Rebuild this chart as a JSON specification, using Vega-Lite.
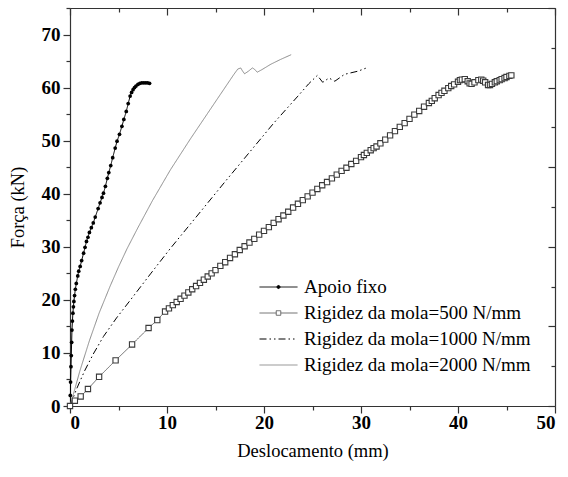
{
  "$schema": "https://vega.github.io/schema/vega-lite/v6.json",
  "width": 485,
  "height": 398,
  "autosize": "none",
  "padding": {"left": 70, "top": 8, "right": 13, "bottom": 71},
  "background": "white",
  "config": {
    "font": "Liberation Serif",
    "view": {"stroke": null},
    "axis": {
      "grid": false,
      "labelFont": "Liberation Serif",
      "labelFontWeight": "bold",
      "labelFontSize": 19,
      "labelColor": "black",
      "tickColor": "#333",
      "domainColor": "#333",
      "tickWidth": 1.2,
      "domainWidth": 1.2,
      "titleFont": "Liberation Serif",
      "titleFontWeight": "normal",
      "titleFontSize": 18.5,
      "titleColor": "black"
    }
  },
  "datasets": {
    "d": [
      {"s": "A", "x": 0, "y": 0},
      {"s": "A", "x": 0.03, "y": 2},
      {"s": "A", "x": 0.06, "y": 4.5},
      {"s": "A", "x": 0.1, "y": 7.4},
      {"s": "A", "x": 0.13, "y": 9.5},
      {"s": "A", "x": 0.17, "y": 12},
      {"s": "A", "x": 0.2, "y": 14.3},
      {"s": "A", "x": 0.25, "y": 16},
      {"s": "A", "x": 0.3, "y": 17.5},
      {"s": "A", "x": 0.35, "y": 18.7},
      {"s": "A", "x": 0.4, "y": 19.7},
      {"s": "A", "x": 0.47, "y": 20.8},
      {"s": "A", "x": 0.55, "y": 22},
      {"s": "A", "x": 0.65, "y": 23.1},
      {"s": "A", "x": 0.8, "y": 24.5},
      {"s": "A", "x": 0.9, "y": 25.4},
      {"s": "A", "x": 1.05, "y": 26.3},
      {"s": "A", "x": 1.2, "y": 27.4},
      {"s": "A", "x": 1.4, "y": 28.8},
      {"s": "A", "x": 1.55, "y": 29.9},
      {"s": "A", "x": 1.7, "y": 31},
      {"s": "A", "x": 1.85, "y": 31.8},
      {"s": "A", "x": 2.0, "y": 32.7},
      {"s": "A", "x": 2.2, "y": 33.6},
      {"s": "A", "x": 2.4, "y": 34.5},
      {"s": "A", "x": 2.6, "y": 35.6},
      {"s": "A", "x": 2.9, "y": 37.2},
      {"s": "A", "x": 3.1, "y": 38.3},
      {"s": "A", "x": 3.3, "y": 39.3},
      {"s": "A", "x": 3.45, "y": 40.1},
      {"s": "A", "x": 3.65, "y": 41.4},
      {"s": "A", "x": 3.85, "y": 42.9},
      {"s": "A", "x": 4.0, "y": 44},
      {"s": "A", "x": 4.2, "y": 45.3},
      {"s": "A", "x": 4.4, "y": 46.8},
      {"s": "A", "x": 4.66, "y": 48.6},
      {"s": "A", "x": 4.85, "y": 49.9},
      {"s": "A", "x": 5.1, "y": 51.2},
      {"s": "A", "x": 5.35, "y": 52.7},
      {"s": "A", "x": 5.55, "y": 54},
      {"s": "A", "x": 5.8, "y": 55.5},
      {"s": "A", "x": 6.0, "y": 57},
      {"s": "A", "x": 6.2, "y": 58.4},
      {"s": "A", "x": 6.35, "y": 59.1},
      {"s": "A", "x": 6.5, "y": 59.6},
      {"s": "A", "x": 6.65, "y": 60},
      {"s": "A", "x": 6.8, "y": 60.3},
      {"s": "A", "x": 7.0, "y": 60.6},
      {"s": "A", "x": 7.2, "y": 60.8},
      {"s": "A", "x": 7.4, "y": 60.9},
      {"s": "A", "x": 7.6, "y": 60.9},
      {"s": "A", "x": 7.8, "y": 60.9},
      {"s": "A", "x": 8.0, "y": 60.9},
      {"s": "A", "x": 8.2, "y": 60.8},

      {"s": "500", "x": 0, "y": 0},
      {"s": "500", "x": 0.5, "y": 1.0},
      {"s": "500", "x": 1.1, "y": 1.8},
      {"s": "500", "x": 1.85, "y": 3.2},
      {"s": "500", "x": 3.0, "y": 5.5},
      {"s": "500", "x": 4.7, "y": 8.6},
      {"s": "500", "x": 6.4, "y": 11.6},
      {"s": "500", "x": 8.1, "y": 14.7},
      {"s": "500", "x": 9.0, "y": 16.2},
      {"s": "500", "x": 9.8, "y": 17.8},
      {"s": "500", "x": 10.2, "y": 18.4},
      {"s": "500", "x": 10.6, "y": 19.0},
      {"s": "500", "x": 11.0, "y": 19.6},
      {"s": "500", "x": 11.4, "y": 20.2},
      {"s": "500", "x": 11.8, "y": 20.8},
      {"s": "500", "x": 12.2, "y": 21.4},
      {"s": "500", "x": 12.6, "y": 22.0},
      {"s": "500", "x": 13.0, "y": 22.6},
      {"s": "500", "x": 13.4, "y": 23.2},
      {"s": "500", "x": 13.8, "y": 23.8},
      {"s": "500", "x": 14.2, "y": 24.4},
      {"s": "500", "x": 14.6, "y": 25.0},
      {"s": "500", "x": 15.0, "y": 25.6},
      {"s": "500", "x": 15.5, "y": 26.4},
      {"s": "500", "x": 16.0, "y": 27.1},
      {"s": "500", "x": 16.5, "y": 27.9},
      {"s": "500", "x": 17.0, "y": 28.6},
      {"s": "500", "x": 17.5, "y": 29.4},
      {"s": "500", "x": 18.0, "y": 30.1},
      {"s": "500", "x": 18.5, "y": 30.8},
      {"s": "500", "x": 19.0, "y": 31.5},
      {"s": "500", "x": 19.5, "y": 32.3},
      {"s": "500", "x": 20.0, "y": 33.0},
      {"s": "500", "x": 20.5, "y": 33.7},
      {"s": "500", "x": 21.0, "y": 34.5},
      {"s": "500", "x": 21.5, "y": 35.2},
      {"s": "500", "x": 22.0, "y": 35.9},
      {"s": "500", "x": 22.5, "y": 36.6},
      {"s": "500", "x": 23.0, "y": 37.4},
      {"s": "500", "x": 23.5, "y": 38.1},
      {"s": "500", "x": 24.0, "y": 38.8},
      {"s": "500", "x": 24.5, "y": 39.5},
      {"s": "500", "x": 25.0, "y": 40.2},
      {"s": "500", "x": 25.5, "y": 40.9},
      {"s": "500", "x": 26.0, "y": 41.6},
      {"s": "500", "x": 26.5, "y": 42.2},
      {"s": "500", "x": 27.0, "y": 42.9},
      {"s": "500", "x": 27.5, "y": 43.6},
      {"s": "500", "x": 28.0, "y": 44.3},
      {"s": "500", "x": 28.5, "y": 44.9},
      {"s": "500", "x": 29.0, "y": 45.6},
      {"s": "500", "x": 29.5, "y": 46.2},
      {"s": "500", "x": 30.0, "y": 46.9},
      {"s": "500", "x": 30.3, "y": 47.3},
      {"s": "500", "x": 30.6, "y": 47.7},
      {"s": "500", "x": 31.0, "y": 48.2},
      {"s": "500", "x": 31.3, "y": 48.6},
      {"s": "500", "x": 31.6, "y": 48.9},
      {"s": "500", "x": 32.0, "y": 49.5},
      {"s": "500", "x": 32.5, "y": 50.2},
      {"s": "500", "x": 33.0, "y": 51.0},
      {"s": "500", "x": 33.5, "y": 51.8},
      {"s": "500", "x": 34.0, "y": 52.6},
      {"s": "500", "x": 34.5, "y": 53.3},
      {"s": "500", "x": 35.0, "y": 54.1},
      {"s": "500", "x": 35.5, "y": 54.9},
      {"s": "500", "x": 36.0, "y": 55.6},
      {"s": "500", "x": 36.5, "y": 56.4},
      {"s": "500", "x": 37.0, "y": 57.1},
      {"s": "500", "x": 37.3, "y": 57.5},
      {"s": "500", "x": 37.6, "y": 58.0},
      {"s": "500", "x": 38.0, "y": 58.6},
      {"s": "500", "x": 38.3, "y": 59.0},
      {"s": "500", "x": 38.6, "y": 59.4},
      {"s": "500", "x": 39.0, "y": 59.9},
      {"s": "500", "x": 39.3, "y": 60.3},
      {"s": "500", "x": 39.6, "y": 60.6},
      {"s": "500", "x": 40.0, "y": 61.1},
      {"s": "500", "x": 40.2, "y": 61.4},
      {"s": "500", "x": 40.4, "y": 61.5},
      {"s": "500", "x": 40.7, "y": 61.6},
      {"s": "500", "x": 41.0, "y": 61.2},
      {"s": "500", "x": 41.2, "y": 60.8},
      {"s": "500", "x": 41.4, "y": 60.7},
      {"s": "500", "x": 41.7, "y": 61.0},
      {"s": "500", "x": 42.1, "y": 61.4},
      {"s": "500", "x": 42.4, "y": 61.5},
      {"s": "500", "x": 42.6, "y": 61.3},
      {"s": "500", "x": 42.8, "y": 61.0},
      {"s": "500", "x": 43.1, "y": 60.5},
      {"s": "500", "x": 43.3, "y": 60.5},
      {"s": "500", "x": 43.5, "y": 60.7},
      {"s": "500", "x": 43.8, "y": 61.0},
      {"s": "500", "x": 44.0, "y": 61.2},
      {"s": "500", "x": 44.3, "y": 61.4},
      {"s": "500", "x": 44.5, "y": 61.6},
      {"s": "500", "x": 44.8, "y": 61.8},
      {"s": "500", "x": 45.0, "y": 62.0},
      {"s": "500", "x": 45.3, "y": 62.2},
      {"s": "500", "x": 45.5, "y": 62.3},

      {"s": "1000", "x": 0, "y": 0},
      {"s": "1000", "x": 0.7, "y": 3.3},
      {"s": "1000", "x": 1.5, "y": 6.6},
      {"s": "1000", "x": 2.4, "y": 9.8},
      {"s": "1000", "x": 3.45, "y": 13.1},
      {"s": "1000", "x": 4.8, "y": 16.6},
      {"s": "1000", "x": 6.2, "y": 19.9},
      {"s": "1000", "x": 8.3, "y": 24.9},
      {"s": "1000", "x": 10.35, "y": 29.7},
      {"s": "1000", "x": 13.0, "y": 35.6},
      {"s": "1000", "x": 16.0, "y": 42.3},
      {"s": "1000", "x": 19.0, "y": 48.9},
      {"s": "1000", "x": 21.0, "y": 53.3},
      {"s": "1000", "x": 23.5, "y": 58.4},
      {"s": "1000", "x": 24.6, "y": 60.7},
      {"s": "1000", "x": 25.5, "y": 62.3},
      {"s": "1000", "x": 26.05, "y": 61.0},
      {"s": "1000", "x": 26.7, "y": 61.8},
      {"s": "1000", "x": 27.3, "y": 61.2},
      {"s": "1000", "x": 28.3, "y": 62.5},
      {"s": "1000", "x": 29.7, "y": 63.1},
      {"s": "1000", "x": 30.7, "y": 63.8},

      {"s": "2000", "x": 0, "y": 0},
      {"s": "2000", "x": 0.5, "y": 3.2},
      {"s": "2000", "x": 1.0, "y": 6.5},
      {"s": "2000", "x": 2.0, "y": 12.3},
      {"s": "2000", "x": 3.0, "y": 17.5},
      {"s": "2000", "x": 4.14, "y": 22.6},
      {"s": "2000", "x": 5.0, "y": 26.2},
      {"s": "2000", "x": 5.87, "y": 29.6},
      {"s": "2000", "x": 7.0, "y": 33.6},
      {"s": "2000", "x": 8.5, "y": 38.7},
      {"s": "2000", "x": 10.35, "y": 44.5},
      {"s": "2000", "x": 12.4, "y": 50.3},
      {"s": "2000", "x": 14.5, "y": 56.0},
      {"s": "2000", "x": 16.9, "y": 62.5},
      {"s": "2000", "x": 17.3, "y": 63.5},
      {"s": "2000", "x": 17.6, "y": 63.7},
      {"s": "2000", "x": 17.8, "y": 63.1},
      {"s": "2000", "x": 18.0, "y": 62.6},
      {"s": "2000", "x": 18.4, "y": 63.1},
      {"s": "2000", "x": 18.8, "y": 63.7},
      {"s": "2000", "x": 19.0, "y": 63.5},
      {"s": "2000", "x": 19.3, "y": 62.9},
      {"s": "2000", "x": 19.8, "y": 63.4},
      {"s": "2000", "x": 20.7, "y": 64.4},
      {"s": "2000", "x": 21.7, "y": 65.3},
      {"s": "2000", "x": 22.8, "y": 66.2}
    ]
  },
  "layer": [
    {
      "data": {"name": "d"},
      "mark": {"type": "line", "clip": true},
      "encoding": {
        "x": {"field": "x", "type": "quantitative", "scale": {"domain": [0, 50], "nice": false, "zero": false},
          "axis": {"orient": "bottom", "values": [0, 10, 20, 30, 40, 50], "tickSize": 7, "labelPadding": 0, "title": "Deslocamento (mm)", "titlePadding": 9}},
        "y": {"field": "y", "type": "quantitative", "scale": {"domain": [0, 75], "nice": false, "zero": false},
          "axis": {"orient": "left", "values": [0, 10, 20, 30, 40, 50, 60, 70], "tickSize": 7, "labelPadding": 3, "title": "Força (kN)", "titlePadding": 14}},
        "color": {"field": "s", "type": "nominal",
          "scale": {"domain": ["A", "500", "1000", "2000"], "range": ["#000000", "#666666", "#000000", "#8a8a8a"]},
          "legend": {
            "orient": "none", "legendX": 189, "legendY": 269, "title": null, "padding": 0,
            "symbolSize": 1444, "clipHeight": 20, "rowPadding": 6, "labelOffset": 6, "labelLimit": 0,
            "symbolStrokeWidth": 1.3,
            "labelFont": "Liberation Serif", "labelFontSize": 19, "labelColor": "black",
            "labelExpr": "datum.value == 'A' ? 'Apoio fixo' : 'Rigidez da mola=' + datum.value + ' N/mm'",
            "encode": {"symbols": {"update": {
              "shape": {"signal": "datum.value == 'A' ? 'M-1,0H1M-0.08,0a0.08,0.08 0 1,0 0.16,0a0.08,0.08 0 1,0 -0.16,0' : datum.value == '500' ? 'M-1,0H-0.12M0.12,0H1M-0.12,-0.12H0.12V0.12H-0.12Z' : 'M-1,0H1'"},
              "fill": {"signal": "datum.value == 'A' ? 'black' : datum.value == '500' ? 'white' : 'transparent'"}
            }}}
          }},
        "strokeDash": {"field": "s", "type": "nominal",
          "scale": {"domain": ["A", "500", "1000", "2000"], "range": [[1, 0], [1, 0], [7, 3, 1.5, 3, 1.5, 3], [1, 0]]}},
        "strokeWidth": {"field": "s", "type": "nominal",
          "scale": {"domain": ["A", "500", "1000", "2000"], "range": [1, 1, 1.7, 1.1]}, "legend": null}
      }
    },
    {
      "data": {"name": "d"},
      "transform": [{"filter": "datum.s == 'A'"}],
      "mark": {"type": "point", "filled": true, "color": "black", "size": 14, "opacity": 1},
      "encoding": {
        "x": {"field": "x", "type": "quantitative",
          "axis": {"orient": "bottom", "values": [5, 15, 25, 35, 45], "tickSize": 4, "labels": false, "domain": false, "title": null}},
        "y": {"field": "y", "type": "quantitative",
          "axis": {"orient": "left", "values": [5, 15, 25, 35, 45, 55, 65, 75], "tickSize": 4, "labels": false, "domain": false, "title": null}}
      }
    },
    {
      "data": {"name": "d"},
      "transform": [{"filter": "datum.s == '500'"}],
      "mark": {"type": "point", "shape": "square", "filled": true, "fill": "white", "stroke": "#3a3a3a", "strokeWidth": 1.1, "size": 28, "opacity": 1},
      "encoding": {
        "x": {"field": "x", "type": "quantitative",
          "axis": {"orient": "top", "values": [0, 10, 20, 30, 40, 50], "tickSize": -7, "labels": false, "title": null}},
        "y": {"field": "y", "type": "quantitative",
          "axis": {"orient": "right", "values": [0, 15, 30, 45, 60, 75], "tickSize": -7, "labels": false, "title": null}}
      }
    },
    {
      "data": {"name": "d"},
      "transform": [{"filter": "false"}],
      "mark": {"type": "point"},
      "encoding": {
        "x": {"field": "x", "type": "quantitative",
          "axis": {"orient": "top", "values": [5, 15, 25, 35, 45], "tickSize": -4, "labels": false, "domain": false, "title": null}},
        "y": {"field": "y", "type": "quantitative",
          "axis": {"orient": "right", "values": [7.5, 22.5, 37.5, 52.5, 67.5], "tickSize": -4, "labels": false, "domain": false, "title": null}}
      }
    }
  ],
  "resolve": {"axis": {"x": "independent", "y": "independent"}}
}
